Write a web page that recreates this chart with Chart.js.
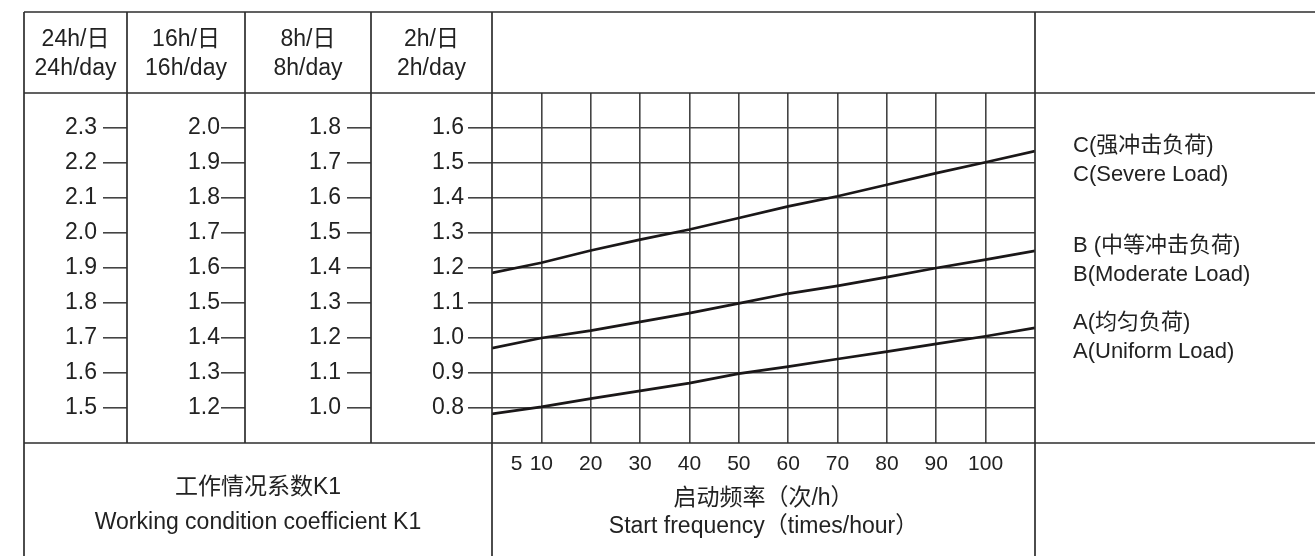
<!DOCTYPE html>
<html>
<head>
<meta charset="utf-8">
<title>工作情况系数K1</title>
<script src="https://cdn.jsdelivr.net/npm/chart.js@4.4.1/dist/chart.umd.min.js"></script>
<style>
    body { margin: 0; background: #fff; }
    canvas { display: block; }
</style>
</head>
<body>
<canvas id="chart" width="1315" height="556"></canvas>
<script>
// start frequency (times/hour) and K1 on the 2h/day scale
const freq = [0, 10, 20, 30, 40, 50, 60, 70, 80, 90, 100, 110];
const loadA = [0.783, 0.803, 0.827, 0.849, 0.871, 0.898, 0.918, 0.940, 0.961, 0.983, 1.005, 1.029];
const loadB = [0.971, 1.000, 1.021, 1.046, 1.071, 1.099, 1.127, 1.149, 1.174, 1.200, 1.224, 1.249];
const loadC = [1.186, 1.215, 1.250, 1.281, 1.310, 1.343, 1.376, 1.405, 1.438, 1.471, 1.502, 1.534];

const freqTicks = [5, 10, 20, 30, 40, 50, 60, 70, 80, 90, 100];
const ticks2h = [0.8, 0.9, 1.0, 1.1, 1.2, 1.3, 1.4, 1.5, 1.6];
const ticks8h = [1.0, 1.1, 1.2, 1.3, 1.4, 1.5, 1.6, 1.7, 1.8];
const ticks16h = [1.2, 1.3, 1.4, 1.5, 1.6, 1.7, 1.8, 1.9, 2.0];
const ticks24h = [1.5, 1.6, 1.7, 1.8, 1.9, 2.0, 2.1, 2.2, 2.3];

const header2h = ['2h/日', '2h/day'];
const header8h = ['8h/日', '8h/day'];
const header16h = ['16h/日', '16h/day'];
const header24h = ['24h/日', '24h/day'];

const loadNames = [
    ['C(强冲击负荷)', 'C(Severe Load)'],
    ['B (中等冲击负荷)', 'B(Moderate Load)'],
    ['A(均匀负荷)', 'A(Uniform Load)']
];
const k1Title = ['工作情况系数K1', 'Working condition coefficient K1'];
const freqTitle = ['启动频率（次/h）', 'Start frequency（times/hour）'];

const FONT = "'Liberation Sans', 'Noto Sans CJK SC', sans-serif";
const TEXT = '#222222';
const GRID = '#444444';
const LINE = '#2e2e2e';

Chart.defaults.font.family = FONT;
Chart.defaults.color = TEXT;

function points(values) {
    return freq.map((f, i) => ({ x: f, y: values[i] }));
}

function sideAxis(ticks, min, width, weight, pad, onChart) {
    return {
        type: 'linear',
        position: 'left',
        weight: weight,
        min: min,
        max: min + 1.0,
        afterBuildTicks: axis => { axis.ticks = ticks.map(v => ({ value: v })); },
        afterFit: axis => { axis.width = width; },
        grid: { color: GRID, lineWidth: 1.6, tickLength: 24, drawOnChartArea: onChart },
        border: { display: false },
        ticks: {
            padding: pad,
            font: { size: 23 },
            color: TEXT,
            callback: v => v.toFixed(1)
        }
    };
}

const series = [loadC, loadB, loadA].map(vals => ({
    data: points(vals),
    borderColor: '#1a1718',
    borderWidth: 2.7,
    pointRadius: 0,
    tension: 0,
    fill: false
}));

const tablePlugin = {
    id: 'table',
    afterDraw(chart) {
        const ctx = chart.ctx;
        const area = chart.chartArea;
        const s = chart.scales;
        const W = chart.width, H = chart.height;
        const left = s.y24.left;
        const top = 12;

        ctx.save();
        ctx.strokeStyle = LINE;
        ctx.lineWidth = 1.7;
        ctx.beginPath();
        // horizontal rules
        [top, area.top, area.bottom].forEach(y => {
            ctx.moveTo(left, y);
            ctx.lineTo(W, y);
        });
        // full-height verticals
        [left, area.left, area.right].forEach(x => {
            ctx.moveTo(x, top);
            ctx.lineTo(x, H);
        });
        // column separators
        [s.y24.right, s.y16.right, s.y8.right].forEach(x => {
            ctx.moveTo(x, top);
            ctx.lineTo(x, area.bottom);
        });
        ctx.stroke();

        ctx.fillStyle = TEXT;
        ctx.textAlign = 'center';
        ctx.textBaseline = 'middle';
        ctx.font = '23px ' + FONT;

        // column headers
        [[s.y24, header24h], [s.y16, header16h], [s.y8, header8h], [s.y, header2h]].forEach(([ax, lines]) => {
            const cx = (ax.left + ax.right) / 2;
            ctx.fillText(lines[0], cx, area.top - 53);
            ctx.fillText(lines[1], cx, area.top - 24);
        });

        // bottom-left caption
        const cx = (left + area.left) / 2;
        ctx.fillText(k1Title[0], cx, area.bottom + 45);
        ctx.fillText(k1Title[1], cx, area.bottom + 80);

        // load names at the right, next to each line's end
        ctx.font = '22px ' + FONT;
        ctx.textAlign = 'left';
        loadNames.forEach((names, i) => {
            const meta = chart.getDatasetMeta(i);
            const end = meta.data[meta.data.length - 1];
            ctx.fillText(names[0], area.right + 38, end.y - 5);
            ctx.fillText(names[1], area.right + 38, end.y + 24);
        });
        ctx.restore();
    }
};

new Chart(document.getElementById('chart'), {
    type: 'line',
    data: { datasets: series },
    options: {
        responsive: false,
        animation: false,
        layout: { padding: { left: 24, top: 93, right: 280, bottom: 0 } },
        plugins: { legend: { display: false }, tooltip: { enabled: false } },
        scales: {
            x: {
                type: 'linear',
                min: 0,
                max: 110,
                afterBuildTicks: axis => { axis.ticks = freqTicks.map(v => ({ value: v })); },
                afterFit: axis => { axis.height = 113; },
                grid: {
                    color: c => (c.tick && c.tick.value === 5) ? 'rgba(0,0,0,0)' : GRID,
                    lineWidth: 1.6,
                    drawTicks: false
                },
                border: { display: false },
                ticks: { padding: 9, font: { size: 21 }, color: TEXT, maxRotation: 0, autoSkip: false },
                title: {
                    display: true,
                    text: freqTitle,
                    font: { size: 23, lineHeight: 1.2 },
                    color: TEXT,
                    padding: { top: 0, bottom: 16 }
                }
            },
            y: sideAxis(ticks2h, 0.7, 121, 0, 4, true),
            y8: sideAxis(ticks8h, 0.9, 126, 1, 6, false),
            y16: sideAxis(ticks16h, 1.1, 118, 2, 1, false),
            y24: sideAxis(ticks24h, 1.4, 103, 3, 6, false)
        }
    },
    plugins: [tablePlugin]
});
</script>
</body>
</html>
